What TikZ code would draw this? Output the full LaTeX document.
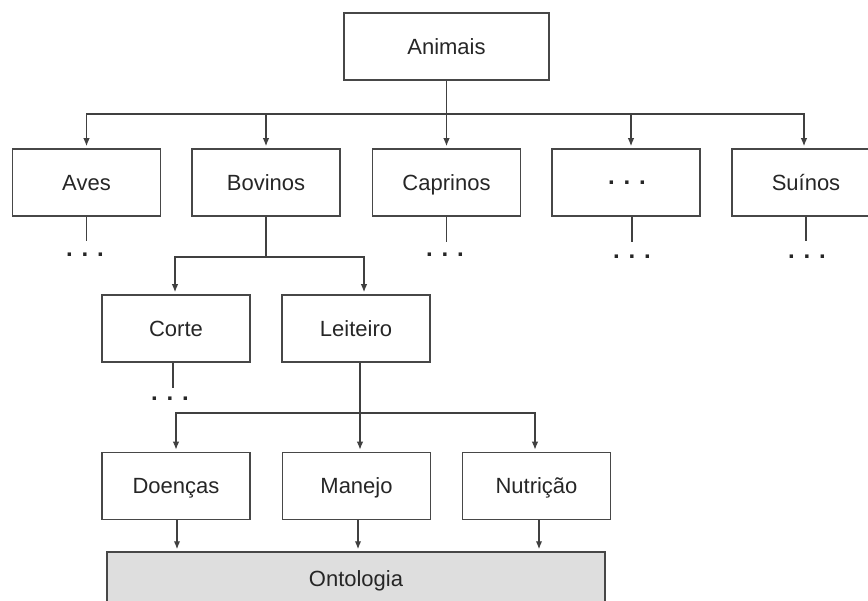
\documentclass[tikz,border=0pt]{standalone}
\usepackage{fontspec}
\setmainfont{Liberation Sans}
\usetikzlibrary{arrows.meta,calc}
\begin{document}
\begin{tikzpicture}[x=1pt,y=-1pt,
  box/.style={draw=black!72, line width=1.5pt, minimum width=148pt, minimum height=67pt, inner sep=0pt, text height=16pt, text depth=0pt, font=\fontsize{22}{26}\selectfont, text=black!85},
  arr/.style={draw=black!75, line width=1.4pt, -{Latex[length=8pt,width=6.5pt]}, shorten >=2pt},
  ln/.style={draw=black!75, line width=1.4pt},
  dotsx/.style={font=\fontsize{24}{26}\selectfont\bfseries, inner sep=0pt, text=black!85}]
\useasboundingbox (0,0) rectangle (868,601);
\clip (0,0) rectangle (868,601);
% nodes
\node[box, minimum width=205pt] (animais) at (446.5,46.5) {Animais};
\node[box] (aves) at (86.5,182.5) {Aves};
\node[box] (bovinos) at (266,182.5) {Bovinos};
\node[box] (caprinos) at (446.5,182.5) {Caprinos};
\node[box] (outros) at (626,182.5) {};
\node[dotsx] (outrosdots) at (627,183) {. . .};
\node[box] (suinos) at (806,182.5) {Suínos};
\node[box] (corte) at (176,328.5) {Corte};
\node[box] (leiteiro) at (356,328.5) {Leiteiro};
\node[box] (doencas) at (176,486) {Doenças};
\node[box] (manejo) at (356.5,486) {Manejo};
\node[box] (nutricao) at (536.5,486) {Nutrição};
\node[box, fill=black!13, minimum width=498pt, minimum height=52pt] (onto) at (356,578) {Ontologia};
% dots under stubs
\node[dotsx, anchor=base] (d1) at (85,257) {. . .};
\node[dotsx, anchor=base] (d2) at (445,257) {. . .};
\node[dotsx, anchor=base] (d3) at (632,259) {. . .};
\node[dotsx, anchor=base] (d4) at (807,259) {. . .};
\node[dotsx, anchor=base] (d5) at (170,401) {. . .};
% stub ends
\coordinate (s1) at (aves.south |- 0,241);
\coordinate (s2) at (caprinos.south |- 0,242);
\coordinate (s3) at ($(outros.south)+(6,0)$);
\coordinate (s3e) at (s3 |- 0,242);
\coordinate (s4) at (suinos.south |- 0,241);
\coordinate (s5) at ($(corte.south)+(-3,0)$);
\coordinate (s5e) at (s5 |- 0,388);
\draw[ln] (aves.south) -- (s1);
\draw[ln] (caprinos.south) -- (s2);
\draw[ln] (s3) -- (s3e);
\draw[ln] (suinos.south) -- (s4);
\draw[ln] (s5) -- (s5e);
% buses
\coordinate (bus1) at (animais.south |- 0,114);
\draw[ln] (animais.south) -- (bus1);
\draw[arr] (bus1) -| (aves.north);
\draw[arr] (bus1) -| (bovinos.north);
\draw[arr] (bus1) -- (caprinos.north);
\draw[arr] (bus1) -| ($(outros.north)+(5,0)$);
\draw[arr] (bus1) -| ($(suinos.north)+(-2,0)$);
\coordinate (bus2) at (bovinos.south |- 0,257);
\draw[ln] (bovinos.south) -- (bus2);
\draw[arr] (bus2) -| ($(corte.north)+(-1,0)$);
\draw[arr] (bus2) -| ($(leiteiro.north)+(8,0)$);
\coordinate (lt) at ($(leiteiro.south)+(4,0)$);
\coordinate (bus3) at (lt |- 0,413);
\draw[ln] (lt) -- (bus3);
\draw[arr] (bus3) -| (doencas.north);
\draw[arr] (bus3) -- (bus3 |- manejo.north);
\draw[arr] (bus3) -| ($(nutricao.north)+(-1.5,0)$);
% to ontology
\draw[arr] ($(doencas.south)+(1,0)$) -- ($(doencas.south |- onto.north)+(1,0)$);
\draw[arr] ($(manejo.south)+(1.5,0)$) -- ($(manejo.south |- onto.north)+(1.5,0)$);
\draw[arr] ($(nutricao.south)+(2.5,0)$) -- ($(nutricao.south |- onto.north)+(2.5,0)$);
\end{tikzpicture}
\end{document}
